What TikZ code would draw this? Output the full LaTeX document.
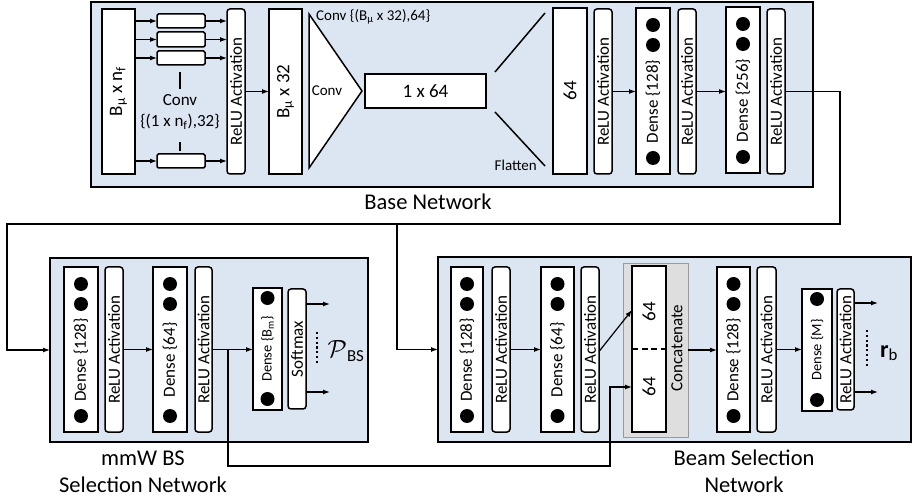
\documentclass[tikz,border=0pt]{standalone}
\usepackage{fontspec}
\setmainfont{Carlito}
\usetikzlibrary{arrows.meta,calc}
\definecolor{panelblue}{HTML}{DCE6F2}
\definecolor{catgray}{HTML}{DEDEDE}
\newcommand\blk[6]{\node[#2, minimum width={(#5-#3)*1pt}, minimum height={(#6-#4)*1pt}] (#1) at ({(#3+#5)/2},{(#4+#6)/2}) {};}
\newcommand\relubox[6]{\blk{#1}{relu}{#2}{#3}{#4}{#5}\node[vtxt] (#1-t) at (#1.center) {#6};}
\newcommand\densethree[6]{\blk{#1}{box}{#2}{#3}{#4}{#5}%
  \node[dotc] (#1-d1) at ([yshift=-17pt]#1.north) {};%
  \node[dotc] (#1-d2) at ([yshift=-37pt]#1.north) {};%
  \node[dotc] (#1-d3) at ([yshift=16pt]#1.south) {};%
  \node[vtxt] (#1-t) at ($(#1-d2)!0.5!(#1-d3)$) {#6};}
\newcommand\densetwo[6]{\blk{#1}{box}{#2}{#3}{#4}{#5}%
  \node[dotc] (#1-d1) at ([yshift=-10pt]#1.north) {};%
  \node[dotc] (#1-d2) at ([yshift=11pt]#1.south) {};%
  \node[vtxt, font=\fontsize{14.5}{14.5}\selectfont] (#1-t) at (#1.center) {#6};}
\begin{document}
\begin{tikzpicture}[x=1pt,y=-1pt,
  box/.style={draw, fill=white, line width=1.5pt, inner sep=0pt, outer sep=0pt},
  relu/.style={box, rounded corners=3pt},
  smallbox/.style={box, rounded corners=1.5pt},
  panel/.style={draw, fill=panelblue, line width=1.5pt, inner sep=0pt, outer sep=0pt},
  vtxt/.style={rotate=90, inner sep=0pt, font=\fontsize{17}{17}\selectfont},
  txt/.style={inner sep=0pt, font=\fontsize{17}{17}\selectfont},
  big/.style={inner sep=0pt, font=\fontsize{22.5}{22.5}\selectfont},
  dotc/.style={circle, fill=black, inner sep=0pt, minimum size=14pt},
  arr/.style={-{Latex[length=7pt,width=5pt]}, line width=1.2pt},
  wire/.style={line width=1.2pt},
  dots/.style={line width=2.2pt, dash pattern=on 2.2pt off 2.6pt}
]
\useasboundingbox (0,0) rectangle (913,502);

% ---------------- Base network ----------------
\blk{base}{panel}{91}{2}{813}{187}
\blk{bnf}{box}{102}{9}{135}{174}
\node[vtxt, font=\fontsize{19}{19}\selectfont] (bnf-t) at (bnf.center) {B\textsubscript{μ} x n\textsubscript{f}};
\blk{c1}{smallbox}{157}{14}{205}{28}
\blk{c2}{smallbox}{157}{32}{205}{47}
\blk{c3}{smallbox}{157}{51}{205}{65}
\blk{c4}{smallbox}{157}{154}{205}{168}
\relubox{r1}{227}{9}{245}{174}{ReLU Activation}
\foreach \c in {c1,c2,c3,c4}{
  \draw[arr] (bnf.east |- \c.west) -- (\c.west);
  \draw[arr] (\c.east) -- (r1.west |- \c.east);
}
\draw[line width=1.5pt] (180,72) -- (180,89);
\draw[line width=1.5pt] (180,142) -- (180,151);
\node[txt] (convt) at (180,100) {Conv};
\node[txt] (convp) at (180,122) {\{(1 x n\textsubscript{f}),32\}};
\blk{b32}{box}{269}{9}{302}{174}
\node[vtxt, font=\fontsize{19}{19}\selectfont] (b32-t) at (b32.center) {B\textsubscript{μ} x 32};
\draw[arr] (r1.east) -- (b32.west);
\draw[line width=1.5pt, fill=white] (309,14) -- (362,91) -- (309,168) -- cycle;
\node[inner sep=0pt, font=\fontsize{15}{15}\selectfont] (conv2) at (327,91) {Conv};
\node[inner sep=0pt, anchor=west, font=\fontsize{15}{15}\selectfont] (conv2p) at (316,17) {Conv \{(B\textsubscript{μ} x 32),64\}};
\blk{one64}{box}{365}{74}{486}{108}
\node[inner sep=0pt, font=\fontsize{19}{19}\selectfont] (one64-t) at (one64.center) {1 x 64};
\draw[line width=1.5pt] (495,72) -- (545,13);
\draw[line width=1.5pt] (495,112) -- (545,166);
\node[inner sep=0pt, anchor=east, font=\fontsize{15}{15}\selectfont] (flat) at (537,165) {Flatten};
\blk{f64}{box}{553}{8}{587}{174}
\node[vtxt, font=\fontsize{19}{19}\selectfont] (f64-t) at (f64.center) {64};
\relubox{r2}{594}{9}{612}{174}{ReLU Activation}
\densethree{d128}{636}{8}{670}{174}{Dense \{128\}}
\relubox{r3}{678}{9}{696}{174}{ReLU Activation}
\densethree{d256}{726}{7}{760}{173}{Dense \{256\}}
\relubox{r4}{767}{9}{785}{174}{ReLU Activation}
\draw[arr] (r2.east) -- (d128.west |- r2.east);
\draw[arr] (r3.east) -- (d256.west |- r3.east);
\node[big] (basel) at (428,202) {Base Network};

% ---------------- mmW BS selection network ----------------
\blk{mmw}{panel}{50}{258}{368}{442}
\densethree{m128}{64}{267}{98}{432}{Dense \{128\}}
\relubox{mr1}{105}{267}{123}{432}{ReLU Activation}
\densethree{m64}{153}{267}{187}{432}{Dense \{64\}}
\relubox{mr2}{195}{267}{212}{432}{ReLU Activation}
\densetwo{mbm}{253}{288}{282}{410}{Dense \{B\textsubscript{m}\}}
\blk{msoft}{relu}{288}{289}{306}{409}
\node[vtxt] (msoft-t) at (msoft.center) {Softmax};
\draw[arr] (mr1.east) -- (m64.west);
\draw[arr] (mr2.east) -- (mbm.west |- mr2.east);
\coordinate (mo1) at (330,304);
\coordinate (mo2) at (330,392);
\draw[arr] (msoft.east |- mo1) -- (mo1);
\draw[arr] (msoft.east |- mo2) -- (mo2);
\draw[dots] (317,332) -- (317,364);
\node[inner sep=0pt, font=\fontsize{24}{24}\selectfont] (pbs) at (346,351) {$\mathcal{P}$\textsubscript{BS}};
\node[big] (mmwl1) at (143,458) {mmW BS};
\node[big] (mmwl2) at (143,485) {Selection Network};

% ---------------- Beam selection network ----------------
\blk{beam}{panel}{438}{257}{911}{442}
\densethree{b128}{451}{267}{483}{432}{Dense \{128\}}
\relubox{br1}{492}{267}{510}{432}{ReLU Activation}
\densethree{b64}{541}{267}{574}{432}{Dense \{64\}}
\relubox{br2}{581}{267}{599}{432}{ReLU Activation}
\node[draw=black!40, fill=catgray, line width=0.8pt, inner sep=0pt, minimum width=65pt, minimum height=174pt] (catg) at (655.5,350) {};
\blk{catw}{box}{632}{266}{666}{432}
\draw[line width=2pt, dash pattern=on 6pt off 3.5pt] (catw.west) -- (catw.east);
\node[vtxt, font=\fontsize{19}{19}\selectfont] (cat64a) at (649,312) {64};
\node[vtxt, font=\fontsize{19}{19}\selectfont] (cat64b) at (649,387) {64};
\node[vtxt] (catt) at (677,348) {Concatenate};
\draw[arr] (br1.east) -- (b64.west);
\coordinate (cattop) at (632,310);
\coordinate (catbot) at (632,387);
\draw[arr] ([yshift=-2pt]br2.east) -- (cattop);
\densethree{b128b}{717}{267}{750}{432}{Dense \{128\}}
\relubox{br3}{757}{267}{776}{432}{ReLU Activation}
\densetwo{bm}{802}{289}{832}{411}{Dense \{M\}}
\relubox{br4}{837}{289}{854}{410}{ReLU Activation}
\draw[arr] (catg.east) -- (b128b.west |- catg.east);
\draw[arr] (br3.east) -- (bm.west |- br3.east);
\coordinate (bo1) at (878,303);
\coordinate (bo2) at (878,392);
\draw[arr] (br4.east |- bo1) -- (bo1);
\draw[arr] (br4.east |- bo2) -- (bo2);
\draw[dots] (867,330) -- (867,366);
\node[inner sep=0pt, font=\fontsize{24}{24}\selectfont] (rb) at (889,353) {\textbf{r}\textsubscript{b}};
\node[big] (beaml1) at (744,458) {Beam Selection};
\node[big] (beaml2) at (744,485) {Network};

% ---------------- connections between networks ----------------
\coordinate (turn) at (840,224);
\coordinate (lt) at (7,224);
\coordinate (br) at (397,224);
\draw[arr] (r4.east) -| (turn) -- (lt) |- (mmw.west);
\draw[arr] (br) |- (beam.west);
\coordinate (mb) at (228,350);
\coordinate (mb2) at (610,466);
\draw[arr] (mb) |- (mb2) |- (catbot);
\end{tikzpicture}
\end{document}
